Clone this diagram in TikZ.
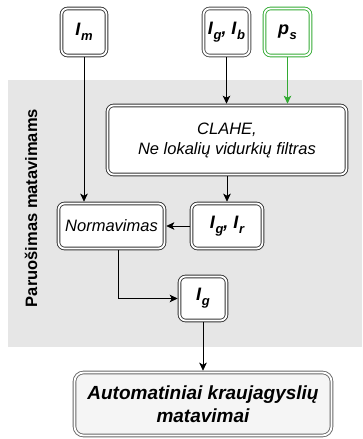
\documentclass[tikz,border=0pt]{standalone}
\usepackage{fontspec}
\setmainfont{Liberation Sans}
\usetikzlibrary{arrows.meta}
\definecolor{grn}{RGB}{51,170,51}
\definecolor{bgray}{RGB}{230,230,230}
\definecolor{fgray}{RGB}{245,245,245}
\newcommand{\sbs}[1]{\kern0.6pt\raisebox{-0.28em}{\fontsize{13}{14}\selectfont #1}}
\tikzset{
  box/.style={draw=black!80, double=white, line width=0.9pt, double distance=1.8pt,
    rounded corners=6pt, fill=white, inner sep=0pt, outer sep=1.8pt, align=center,
    font=\fontsize{16.5}{20}\selectfont\itshape},
  var/.style={box, font=\fontsize{18}{20}\selectfont\bfseries\itshape},
  conn/.style={draw=black, line width=0.8pt, -{Stealth[length=8pt,width=7.5pt,inset=2pt]}}
}
\begin{document}
\begin{tikzpicture}[x=1pt,y=-1pt]
\useasboundingbox (0,0) rectangle (362,439);
\fill[bgray] (8,80) rectangle (362,347);
\node[rotate=90, font=\fontsize{16.5}{20}\selectfont\bfseries] (lbl) at (31,208) {Paruošimas matavimams};

\node[var, minimum width=45pt, minimum height=47pt] (im) at (84,32) {I\sbs{m}};
\node[var, draw=black!70, minimum width=46pt, minimum height=47pt] (igib) at (226.5,32) {I\sbs{g}, I\sbs{b}};
\node[var, draw=grn, minimum width=46pt, minimum height=47pt] (ps) at (287.5,32) {p\sbs{s}};
\node[box, minimum width=239pt, minimum height=69pt] (clahe) at (227,140) {CLAHE,\\Ne lokalių vidurkių filtras};
\node[box, minimum width=106pt, minimum height=45pt] (norm) at (111.5,226) {Normavimas};
\node[var, minimum width=71pt, minimum height=45pt] (igir) at (227,226) {I\sbs{g}, I\sbs{r}};
\node[var, minimum width=47pt, minimum height=44pt] (ig) at (203,298.5) {I\sbs{g}};
\node[box, draw=black!60, fill=fgray, rounded corners=9pt, minimum width=257pt, minimum height=63pt,
  font=\fontsize{19}{23}\selectfont\bfseries\itshape] (fin) at (203,404) {Automatiniai kraujagyslių\\matavimai};

\draw[conn] (im.south) -- (im.south |- norm.north);
\draw[conn] (igib.south) -- (igib.south |- clahe.north);
\draw[conn, draw=grn, -{Stealth[length=8pt,width=7.5pt,inset=2pt]}] (ps.south) -- (ps.south |- clahe.north);
\draw[conn] (clahe.south -| igir.north) -- (igir.north);
\draw[conn] (igir.west) -- (norm.east);
\draw[conn] ([xshift=6.5pt]norm.south) |- (ig.west);
\draw[conn] (ig.south) -- (fin.north);
\end{tikzpicture}
\end{document}
